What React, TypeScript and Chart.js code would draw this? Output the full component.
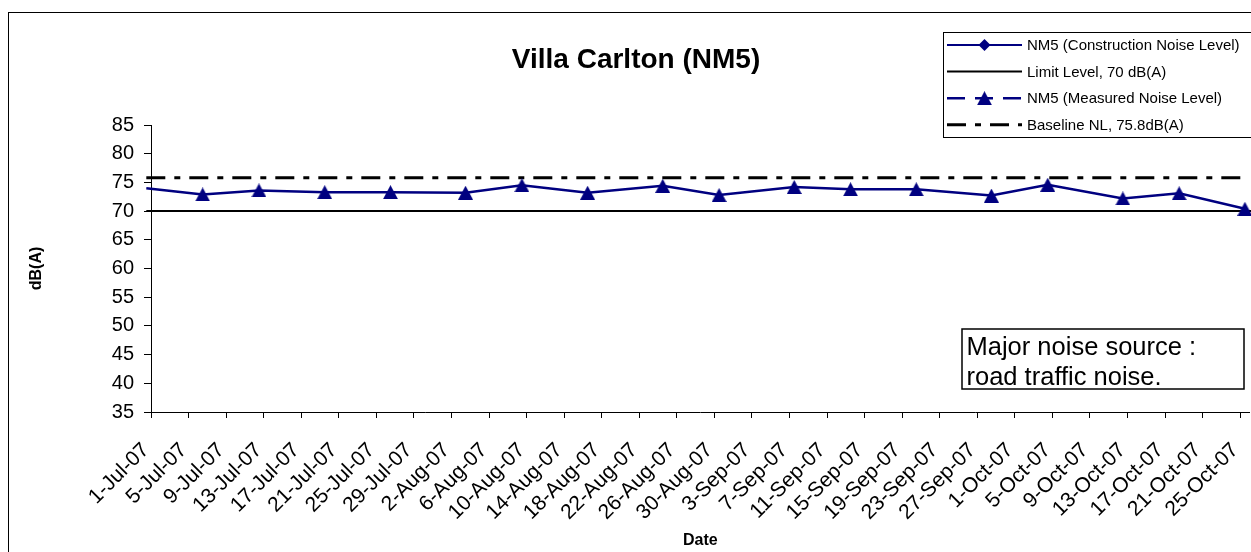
import React, { useEffect, useRef } from "react";
import { Chart, registerables } from "chart.js";

Chart.register(...registerables);

const FONT = "'Liberation Sans', Arial, Helvetica, sans-serif";

// ---------- data ----------
const TITLE = "Villa Carlton (NM5)";
const Y_TITLE = "dB(A)";
const X_TITLE = "Date";
const AXIS_START = "2007-07-01";
const AXIS_DAYS = 117; // 1-Jul-07 .. end of 25-Oct-07 slot
const TICK_STEP_DAYS = 4;
const X_TICK_LABELS = [
  "1-Jul-07", "5-Jul-07", "9-Jul-07", "13-Jul-07", "17-Jul-07", "21-Jul-07", "25-Jul-07", "29-Jul-07",
  "2-Aug-07", "6-Aug-07", "10-Aug-07", "14-Aug-07", "18-Aug-07", "22-Aug-07", "26-Aug-07", "30-Aug-07",
  "3-Sep-07", "7-Sep-07", "11-Sep-07", "15-Sep-07", "19-Sep-07", "23-Sep-07", "27-Sep-07",
  "1-Oct-07", "5-Oct-07", "9-Oct-07", "13-Oct-07", "17-Oct-07", "21-Oct-07", "25-Oct-07",
];
const Y_MIN = 35;
const Y_MAX = 85;
const Y_STEP = 5;

const MEASURED_DATES = [
  "2007-06-30", "2007-07-06", "2007-07-12", "2007-07-19", "2007-07-26", "2007-08-03",
  "2007-08-09", "2007-08-16", "2007-08-24", "2007-08-30", "2007-09-07", "2007-09-13",
  "2007-09-20", "2007-09-28", "2007-10-04", "2007-10-12", "2007-10-18", "2007-10-25",
];
const MEASURED_VALUES = [
  74.0, 72.9, 73.6, 73.3, 73.3, 73.2,
  74.5, 73.2, 74.4, 72.8, 74.2, 73.8,
  73.8, 72.7, 74.6, 72.2, 73.1, 70.4,
];
const CONSTRUCTION_DATES: string[] = [];
const CONSTRUCTION_VALUES: number[] = [];
const LIMIT_LEVEL = 70;
const BASELINE_LEVEL = 75.8;

const SERIES_NAMES = [
  "NM5 (Construction Noise Level)",
  "Limit Level, 70 dB(A)",
  "NM5 (Measured Noise Level)",
  "Baseline NL, 75.8dB(A)",
];
const NOTE_LINES = ["Major noise source :", "road traffic noise."];

// ---------- helpers ----------
const NAVY = "#000080";
const SLOT_CENTER = 0.5;
const dayOf = (iso: string) => {
  const [y, m, d] = iso.split("-").map(Number);
  const [y0, m0, d0] = AXIS_START.split("-").map(Number);
  return (Date.UTC(y, m - 1, d) - Date.UTC(y0, m0 - 1, d0)) / 86400000;
};

function makeTriangle(w: number, h: number, color: string) {
  const c = document.createElement("canvas");
  c.width = w;
  c.height = h;
  const g = c.getContext("2d")!;
  g.fillStyle = color;
  g.beginPath();
  g.moveTo(w / 2, 0);
  g.lineTo(w, h);
  g.lineTo(0, h);
  g.closePath();
  g.fill();
  return c;
}

const W = 1254;
const H = 560;

export default function App() {
  const ref = useRef<HTMLCanvasElement | null>(null);

  useEffect(() => {
    if (!ref.current) return;
    const tri = makeTriangle(15, 14, NAVY);

    const measured = MEASURED_DATES.map((d, i) => ({ x: dayOf(d) + SLOT_CENTER, y: MEASURED_VALUES[i] }));
    const construction = CONSTRUCTION_DATES.map((d, i) => ({ x: dayOf(d) + SLOT_CENTER, y: CONSTRUCTION_VALUES[i] }));
    const firstX = dayOf(MEASURED_DATES[0]) + SLOT_CENTER;
    const lastX = dayOf(MEASURED_DATES[MEASURED_DATES.length - 1]) + SLOT_CENTER;
    const limit = [{ x: firstX, y: LIMIT_LEVEL }, { x: AXIS_DAYS + 0.2, y: LIMIT_LEVEL }];
    const baseline = [{ x: firstX, y: BASELINE_LEVEL }, { x: lastX, y: BASELINE_LEVEL }];

    const legendStyles = [
      { color: NAVY, width: 2, dash: [] as number[], marker: "diamond" },
      { color: "#000", width: 2, dash: [] as number[], marker: "" },
      { color: NAVY, width: 2.5, dash: [18, 10], marker: "triangle" },
      { color: "#000", width: 3, dash: [19, 9, 6, 9], marker: "" },
    ];

    const overlay = {
      id: "overlay",
      afterDraw(chart: any) {
        const ctx = chart.ctx as CanvasRenderingContext2D;
        ctx.save();
        // title
        ctx.fillStyle = "#000";
        ctx.font = `bold 28px ${FONT}`;
        ctx.textAlign = "center";
        ctx.textBaseline = "middle";
        ctx.fillText(TITLE, 627, 47);

        // legend
        const bx = 934, by = 19, bw = 400, bh = 105;
        ctx.fillStyle = "#fff";
        ctx.fillRect(bx, by, bw, bh);
        ctx.strokeStyle = "#000";
        ctx.lineWidth = 1;
        ctx.strokeRect(bx + 0.5, by + 0.5, bw, bh);
        ctx.font = `15px ${FONT}`;
        ctx.textAlign = "left";
        ctx.textBaseline = "middle";
        SERIES_NAMES.forEach((name, i) => {
          const st = legendStyles[i];
          const y = by + 13 + i * 26.6;
          ctx.save();
          ctx.strokeStyle = st.color;
          ctx.lineWidth = st.width;
          ctx.setLineDash(st.dash);
          ctx.beginPath();
          ctx.moveTo(938, y);
          ctx.lineTo(1013, y);
          ctx.stroke();
          ctx.restore();
          if (st.marker === "diamond") {
            ctx.fillStyle = st.color;
            ctx.beginPath();
            ctx.moveTo(975.5, y - 6);
            ctx.lineTo(981.5, y);
            ctx.lineTo(975.5, y + 6);
            ctx.lineTo(969.5, y);
            ctx.closePath();
            ctx.fill();
          } else if (st.marker === "triangle") {
            ctx.drawImage(tri, 975.5 - tri.width / 2, y - tri.height / 2);
          }
          ctx.fillStyle = "#000";
          ctx.fillText(name, 1018, y + 1);
        });

        // note box
        const nx = 953, ny = 316, nw = 282, nh = 60;
        ctx.fillStyle = "#fff";
        ctx.fillRect(nx, ny, nw, nh);
        ctx.strokeStyle = "#000";
        ctx.lineWidth = 1.5;
        ctx.strokeRect(nx, ny, nw, nh);
        ctx.fillStyle = "#000";
        ctx.font = `25.5px ${FONT}`;
        ctx.textBaseline = "alphabetic";
        ctx.fillText(NOTE_LINES[0], 957.5, 341.5);
        ctx.fillText(NOTE_LINES[1], 957.5, 372);
        ctx.restore();
      },
    };

    const chart = new Chart(ref.current, {
      type: "line",
      data: {
        datasets: [
          {
            label: SERIES_NAMES[0],
            data: construction,
            borderColor: NAVY,
            backgroundColor: NAVY,
            borderWidth: 2,
            pointStyle: "rectRot",
            pointRadius: 6,
            order: 1,
            clip: false as any,
          },
          {
            label: SERIES_NAMES[1],
            data: limit,
            borderColor: "#000",
            borderWidth: 2,
            pointRadius: 0,
            order: 2,
            clip: false as any,
          },
          {
            label: SERIES_NAMES[2],
            data: measured,
            borderColor: NAVY,
            backgroundColor: NAVY,
            borderWidth: 2.5,
            pointStyle: tri as any,
            pointRadius: (c: any) => (c.raw && c.raw.x < 0 ? 0 : 7),
            order: 0,
            clip: false as any,
          },
          {
            label: SERIES_NAMES[3],
            data: baseline,
            borderColor: "#000",
            borderWidth: 3,
            borderDash: [19, 9, 6, 9],
            pointRadius: 0,
            order: 3,
            clip: false as any,
          },
        ],
      },
      options: {
        animation: false,
        responsive: false,
        maintainAspectRatio: false,
        layout: { padding: { top: 112, left: 0, right: 13.4, bottom: 0 } },
        plugins: {
          legend: { display: false },
          tooltip: { enabled: false },
          title: { display: false },
        },
        scales: {
          x: {
            type: "linear",
            min: 0,
            max: AXIS_DAYS,
            afterBuildTicks: (s: any) => {
              s.ticks = X_TICK_LABELS.map((_, i) => ({ value: i * TICK_STEP_DAYS }));
            },
            afterFit: (s: any) => {
              s.height = H - 399;
              s.paddingLeft = 0;
              s.paddingRight = 0;
            },
            ticks: {
              autoSkip: false,
              minRotation: 45,
              maxRotation: 45,
              padding: 20,
              labelOffset: -5,
              color: "#000",
              font: { family: FONT, size: 21 },
              callback: (_v: any, i: number) => X_TICK_LABELS[i] ?? "",
            },
            grid: { drawOnChartArea: false, drawTicks: true, tickLength: 6, color: "#000", lineWidth: 1 },
            border: { display: true, color: "#000", width: 1 },
            title: {
              display: true,
              text: X_TITLE,
              color: "#000",
              font: { family: FONT, size: 16, weight: "bold" },
              padding: { top: 0, bottom: 22.4 },
            },
          },
          y: {
            min: Y_MIN,
            max: Y_MAX,
            afterFit: (s: any) => {
              s.width = 142;
              s.paddingTop = 0;
              s.paddingBottom = 0;
            },
            ticks: {
              stepSize: Y_STEP,
              padding: 10,
              color: "#000",
              font: { family: FONT, size: 20 },
            },
            grid: { drawOnChartArea: false, drawTicks: true, tickLength: 7, color: "#000", lineWidth: 1 },
            border: { display: true, color: "#000", width: 1 },
            title: {
              display: true,
              text: Y_TITLE,
              color: "#000",
              font: { family: FONT, size: 16, weight: "bold" },
              padding: { top: 18.4, bottom: 0 },
            },
          },
        },
      },
      plugins: [overlay],
    } as any);

    return () => chart.destroy();
  }, []);

  return (
    <div
      style={{
        position: "fixed",
        left: 8,
        top: 12,
        width: 1300,
        height: 600,
        border: "1px solid #000",
        background: "#fff",
      }}
    >
      <canvas ref={ref} width={W} height={H} style={{ display: "block", width: W, height: H }} />
    </div>
  );
}
